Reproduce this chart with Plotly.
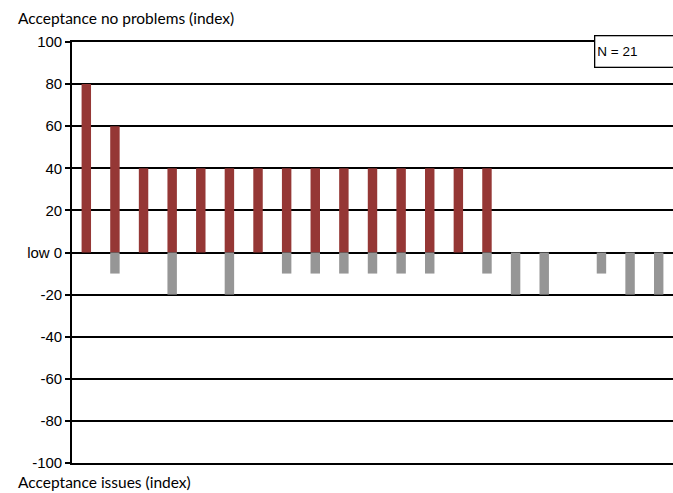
import plotly.graph_objects as go

# 21 cases, each scored on two indices
cases = list(range(1, 22))
no_problems = [80, 60, 40, 40, 40, 40, 40, 40, 40, 40, 40, 40, 40, 40, 40, 0, 0, 0, 0, 0, 0]
issues = [0, -10, 0, -20, 0, -20, 0, -10, -10, -10, -10, -10, -10, 0, -10, -20, -20, 0, -10, -20, -20]

y_ticks = [100, 80, 60, 40, 20, 0, -20, -40, -60, -80, -100]
y_labels = ["100", "80", "60", "40", "20", "low 0", "-20", "-40", "-60", "-80", "-100"]

RED = "#953735"
GRAY = "#969696"
SANS = "Liberation Sans"
CAPTION = "Lato"

fig = go.Figure()
fig.add_bar(x=cases, y=no_problems, marker=dict(color=RED, line=dict(width=0)),
            width=0.33, name="Acceptance no problems")
fig.add_bar(x=cases, y=issues, marker=dict(color=GRAY, line=dict(width=0)),
            width=0.33, name="Acceptance issues")

fig.update_layout(
    width=673, height=493,
    margin=dict(l=72, r=0, t=42, b=30),
    plot_bgcolor="white", paper_bgcolor="white",
    barmode="relative",
    showlegend=False,
    font=dict(family=SANS, size=14, color="black"),
    xaxis=dict(range=[0.5, 21.5], showticklabels=False, ticks="", showgrid=False,
               zeroline=False, showline=True, mirror=True, linecolor="black",
               linewidth=1.6, fixedrange=True),
    yaxis=dict(range=[-100, 100], tickvals=y_ticks, ticktext=y_labels,
               showgrid=True, gridcolor="black", gridwidth=1.6,
               zeroline=True, zerolinecolor="black", zerolinewidth=1.6,
               showline=True, linecolor="black", linewidth=1.6,
               ticks="outside", ticklen=5, tickcolor="black", tickwidth=1.6,
               tickfont=dict(family=SANS, size=15), fixedrange=True),
)

# axis captions above and below the plot
fig.add_annotation(text="Acceptance no problems (index)", xref="paper", yref="paper",
                   x=-56 / 601, y=1, yshift=24, xanchor="left", yanchor="middle",
                   showarrow=False, font=dict(family=CAPTION, size=15.5))
fig.add_annotation(text="Acceptance issues (index)", xref="paper", yref="paper",
                   x=-56 / 601, y=0, yshift=-19, xanchor="left", yanchor="middle",
                   showarrow=False, font=dict(family=CAPTION, size=15.5))

# sample size box in the top right corner, running off the edge
fig.add_annotation(text="N = 21", xref="paper", yref="paper",
                   x=1, y=1, xshift=14, yshift=7, xanchor="right", yanchor="top",
                   showarrow=False, align="left", width=86, height=26,
                   bgcolor="white", bordercolor="black", borderwidth=1.3, borderpad=2,
                   font=dict(family=SANS, size=13.5))

fig.write_html("out.html")
